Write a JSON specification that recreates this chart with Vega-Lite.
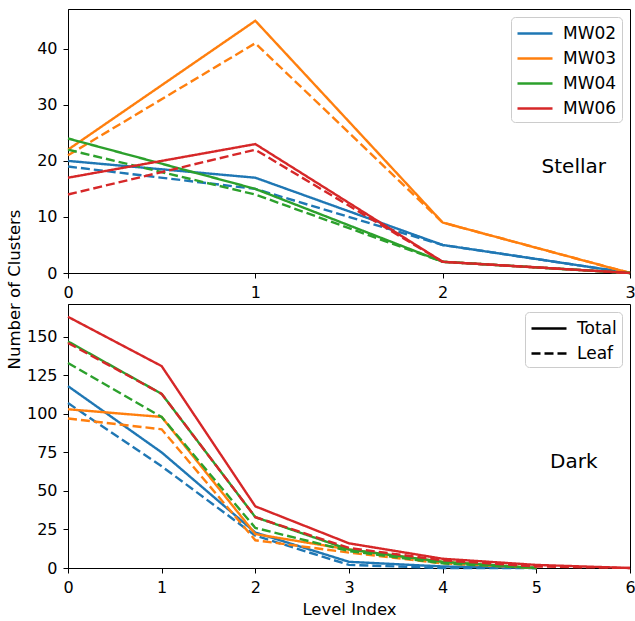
{
  "$schema": "https://vega.github.io/schema/vega-lite/v6.json",
  "padding": {"left": 5, "top": 8, "right": 5, "bottom": 5},
  "background": "white",
  "datasets": {
    "clusters": [
      {"panel": "Stellar", "sim": "MW02", "type": "Total", "level": 0, "n": 20},
      {"panel": "Stellar", "sim": "MW02", "type": "Total", "level": 1, "n": 17},
      {"panel": "Stellar", "sim": "MW02", "type": "Total", "level": 2, "n": 5},
      {"panel": "Stellar", "sim": "MW02", "type": "Total", "level": 3, "n": 0},
      {"panel": "Stellar", "sim": "MW02", "type": "Leaf", "level": 0, "n": 19},
      {"panel": "Stellar", "sim": "MW02", "type": "Leaf", "level": 1, "n": 15},
      {"panel": "Stellar", "sim": "MW02", "type": "Leaf", "level": 2, "n": 5},
      {"panel": "Stellar", "sim": "MW02", "type": "Leaf", "level": 3, "n": 0},
      {"panel": "Stellar", "sim": "MW03", "type": "Total", "level": 0, "n": 22},
      {"panel": "Stellar", "sim": "MW03", "type": "Total", "level": 1, "n": 45},
      {"panel": "Stellar", "sim": "MW03", "type": "Total", "level": 2, "n": 9},
      {"panel": "Stellar", "sim": "MW03", "type": "Total", "level": 3, "n": 0},
      {"panel": "Stellar", "sim": "MW03", "type": "Leaf", "level": 0, "n": 21},
      {"panel": "Stellar", "sim": "MW03", "type": "Leaf", "level": 1, "n": 41},
      {"panel": "Stellar", "sim": "MW03", "type": "Leaf", "level": 2, "n": 9},
      {"panel": "Stellar", "sim": "MW03", "type": "Leaf", "level": 3, "n": 0},
      {"panel": "Stellar", "sim": "MW04", "type": "Total", "level": 0, "n": 24},
      {"panel": "Stellar", "sim": "MW04", "type": "Total", "level": 1, "n": 15},
      {"panel": "Stellar", "sim": "MW04", "type": "Total", "level": 2, "n": 2},
      {"panel": "Stellar", "sim": "MW04", "type": "Total", "level": 3, "n": 0},
      {"panel": "Stellar", "sim": "MW04", "type": "Leaf", "level": 0, "n": 22},
      {"panel": "Stellar", "sim": "MW04", "type": "Leaf", "level": 1, "n": 14},
      {"panel": "Stellar", "sim": "MW04", "type": "Leaf", "level": 2, "n": 2},
      {"panel": "Stellar", "sim": "MW04", "type": "Leaf", "level": 3, "n": 0},
      {"panel": "Stellar", "sim": "MW06", "type": "Total", "level": 0, "n": 17},
      {"panel": "Stellar", "sim": "MW06", "type": "Total", "level": 1, "n": 23},
      {"panel": "Stellar", "sim": "MW06", "type": "Total", "level": 2, "n": 2},
      {"panel": "Stellar", "sim": "MW06", "type": "Total", "level": 3, "n": 0},
      {"panel": "Stellar", "sim": "MW06", "type": "Leaf", "level": 0, "n": 14},
      {"panel": "Stellar", "sim": "MW06", "type": "Leaf", "level": 1, "n": 22},
      {"panel": "Stellar", "sim": "MW06", "type": "Leaf", "level": 2, "n": 2},
      {"panel": "Stellar", "sim": "MW06", "type": "Leaf", "level": 3, "n": 0},

      {"panel": "Dark", "sim": "MW02", "type": "Total", "level": 0, "n": 118},
      {"panel": "Dark", "sim": "MW02", "type": "Total", "level": 1, "n": 75},
      {"panel": "Dark", "sim": "MW02", "type": "Total", "level": 2, "n": 23},
      {"panel": "Dark", "sim": "MW02", "type": "Total", "level": 3, "n": 4},
      {"panel": "Dark", "sim": "MW02", "type": "Total", "level": 4, "n": 1},
      {"panel": "Dark", "sim": "MW02", "type": "Total", "level": 5, "n": 0},
      {"panel": "Dark", "sim": "MW02", "type": "Leaf", "level": 0, "n": 107},
      {"panel": "Dark", "sim": "MW02", "type": "Leaf", "level": 1, "n": 66},
      {"panel": "Dark", "sim": "MW02", "type": "Leaf", "level": 2, "n": 21},
      {"panel": "Dark", "sim": "MW02", "type": "Leaf", "level": 3, "n": 2},
      {"panel": "Dark", "sim": "MW02", "type": "Leaf", "level": 4, "n": 0},
      {"panel": "Dark", "sim": "MW02", "type": "Leaf", "level": 5, "n": 0},
      {"panel": "Dark", "sim": "MW03", "type": "Total", "level": 0, "n": 103},
      {"panel": "Dark", "sim": "MW03", "type": "Total", "level": 1, "n": 98},
      {"panel": "Dark", "sim": "MW03", "type": "Total", "level": 2, "n": 22},
      {"panel": "Dark", "sim": "MW03", "type": "Total", "level": 3, "n": 12},
      {"panel": "Dark", "sim": "MW03", "type": "Total", "level": 4, "n": 4},
      {"panel": "Dark", "sim": "MW03", "type": "Total", "level": 5, "n": 0},
      {"panel": "Dark", "sim": "MW03", "type": "Leaf", "level": 0, "n": 97},
      {"panel": "Dark", "sim": "MW03", "type": "Leaf", "level": 1, "n": 90},
      {"panel": "Dark", "sim": "MW03", "type": "Leaf", "level": 2, "n": 18},
      {"panel": "Dark", "sim": "MW03", "type": "Leaf", "level": 3, "n": 10},
      {"panel": "Dark", "sim": "MW03", "type": "Leaf", "level": 4, "n": 3},
      {"panel": "Dark", "sim": "MW03", "type": "Leaf", "level": 5, "n": 0},
      {"panel": "Dark", "sim": "MW04", "type": "Total", "level": 0, "n": 147},
      {"panel": "Dark", "sim": "MW04", "type": "Total", "level": 1, "n": 113},
      {"panel": "Dark", "sim": "MW04", "type": "Total", "level": 2, "n": 33},
      {"panel": "Dark", "sim": "MW04", "type": "Total", "level": 3, "n": 12},
      {"panel": "Dark", "sim": "MW04", "type": "Total", "level": 4, "n": 4},
      {"panel": "Dark", "sim": "MW04", "type": "Total", "level": 5, "n": 0},
      {"panel": "Dark", "sim": "MW04", "type": "Leaf", "level": 0, "n": 133},
      {"panel": "Dark", "sim": "MW04", "type": "Leaf", "level": 1, "n": 98},
      {"panel": "Dark", "sim": "MW04", "type": "Leaf", "level": 2, "n": 26},
      {"panel": "Dark", "sim": "MW04", "type": "Leaf", "level": 3, "n": 11},
      {"panel": "Dark", "sim": "MW04", "type": "Leaf", "level": 4, "n": 3},
      {"panel": "Dark", "sim": "MW04", "type": "Leaf", "level": 5, "n": 0},
      {"panel": "Dark", "sim": "MW06", "type": "Total", "level": 0, "n": 163},
      {"panel": "Dark", "sim": "MW06", "type": "Total", "level": 1, "n": 131},
      {"panel": "Dark", "sim": "MW06", "type": "Total", "level": 2, "n": 40},
      {"panel": "Dark", "sim": "MW06", "type": "Total", "level": 3, "n": 16},
      {"panel": "Dark", "sim": "MW06", "type": "Total", "level": 4, "n": 6},
      {"panel": "Dark", "sim": "MW06", "type": "Total", "level": 5, "n": 2},
      {"panel": "Dark", "sim": "MW06", "type": "Total", "level": 6, "n": 0},
      {"panel": "Dark", "sim": "MW06", "type": "Leaf", "level": 0, "n": 146},
      {"panel": "Dark", "sim": "MW06", "type": "Leaf", "level": 1, "n": 113},
      {"panel": "Dark", "sim": "MW06", "type": "Leaf", "level": 2, "n": 33},
      {"panel": "Dark", "sim": "MW06", "type": "Leaf", "level": 3, "n": 13},
      {"panel": "Dark", "sim": "MW06", "type": "Leaf", "level": 4, "n": 5},
      {"panel": "Dark", "sim": "MW06", "type": "Leaf", "level": 5, "n": 1},
      {"panel": "Dark", "sim": "MW06", "type": "Leaf", "level": 6, "n": 0}
    ],
    "labels": [
      {"panel": "Stellar", "label": "Stellar", "level": 2.7, "n": 19},
      {"panel": "Dark", "label": "Dark", "level": 5.4, "n": 68.5}
    ]
  },
  "bounds": "flush",
  "spacing": 31,
  "resolve": {"legend": {"color": "independent", "strokeDash": "independent"}},
  "vconcat": [
    {
      "width": 562,
      "height": 264,
      "layer": [
        {
          "data": {"name": "clusters"},
          "transform": [{"filter": "datum.panel === 'Stellar'"}],
          "mark": {"type": "line", "strokeWidth": 2.4},
          "encoding": {
            "x": {"field": "level", "type": "quantitative", "scale": {"domain": [0, 3], "nice": false, "zero": false},
                  "axis": {"values": [0, 1, 2, 3], "title": null, "format": "d"}},
            "y": {"field": "n", "type": "quantitative", "scale": {"domain": [0, 47.1], "nice": false},
                  "axis": {"values": [0, 10, 20, 30, 40], "title": "Number of Clusters", "titleX": -54, "titleY": 280, "titleAlign": "center", "titleBaseline": "middle", "titleAngle": 270}},
            "color": {"field": "sim", "type": "nominal",
                      "scale": {"domain": ["MW02", "MW03", "MW04", "MW06"], "range": ["#1f77b4", "#ff7f0e", "#2ca02c", "#d62728"]},
                      "legend": {"title": null, "orient": "top-right", "offset": 8}},
            "strokeDash": {"field": "type", "type": "nominal",
                           "scale": {"domain": ["Total", "Leaf"], "range": [[1, 0], [9, 4]]}, "legend": null}
          }
        },
        {
          "data": {"name": "labels"},
          "transform": [{"filter": "datum.panel === 'Stellar'"}],
          "mark": {"type": "text", "fontSize": 20, "font": "DejaVu Sans", "color": "black"},
          "encoding": {
            "x": {"field": "level", "type": "quantitative"},
            "y": {"field": "n", "type": "quantitative"},
            "text": {"field": "label"}
          }
        }
      ]
    },
    {
      "width": 562,
      "height": 264,
      "layer": [
        {
          "data": {"name": "clusters"},
          "transform": [{"filter": "datum.panel === 'Dark'"}],
          "mark": {"type": "line", "strokeWidth": 2.4},
          "encoding": {
            "x": {"field": "level", "type": "quantitative", "scale": {"domain": [0, 6], "nice": false, "zero": false},
                  "axis": {"values": [0, 1, 2, 3, 4, 5, 6], "title": "Level Index", "format": "d", "titlePadding": 6}},
            "y": {"field": "n", "type": "quantitative", "scale": {"domain": [0, 171.3], "nice": false},
                  "axis": {"values": [0, 25, 50, 75, 100, 125, 150], "title": null}},
            "color": {"field": "sim", "type": "nominal",
                      "scale": {"domain": ["MW02", "MW03", "MW04", "MW06"], "range": ["#1f77b4", "#ff7f0e", "#2ca02c", "#d62728"]},
                      "legend": null},
            "strokeDash": {"field": "type", "type": "nominal",
                           "scale": {"domain": ["Total", "Leaf"], "range": [[1, 0], [7, 3]]},
                           "legend": {"title": null, "orient": "top-right", "offset": 8, "symbolStrokeColor": "black"}}
          }
        },
        {
          "data": {"name": "labels"},
          "transform": [{"filter": "datum.panel === 'Dark'"}],
          "mark": {"type": "text", "fontSize": 20, "font": "DejaVu Sans", "color": "black"},
          "encoding": {
            "x": {"field": "level", "type": "quantitative"},
            "y": {"field": "n", "type": "quantitative"},
            "text": {"field": "label"}
          }
        }
      ]
    }
  ],
  "config": {
    "view": {"stroke": "black", "strokeWidth": 1},
    "font": "DejaVu Sans",
    "axis": {
      "grid": false,
      "domainColor": "black",
      "tickColor": "black",
      "labelColor": "black",
      "titleColor": "black",
      "labelFont": "DejaVu Sans",
      "titleFont": "DejaVu Sans",
      "labelFontSize": 16,
      "titleFontSize": 16.5,
      "titleFontWeight": "normal",
      "tickSize": 5,
      "labelPadding": 6,
      "labelFlush": false,
      "labelOverlap": false
    },
    "legend": {
      "fillColor": "white",
      "strokeColor": "#cccccc",
      "cornerRadius": 4,
      "padding": 5,
      "labelFont": "DejaVu Sans",
      "labelFontSize": 17,
      "labelColor": "black",
      "labelOffset": 24,
      "rowPadding": 5,
      "symbolType": "M-1,0H2.5",
      "symbolSize": 400,
      "symbolStrokeWidth": 2.5
    }
  }
}
